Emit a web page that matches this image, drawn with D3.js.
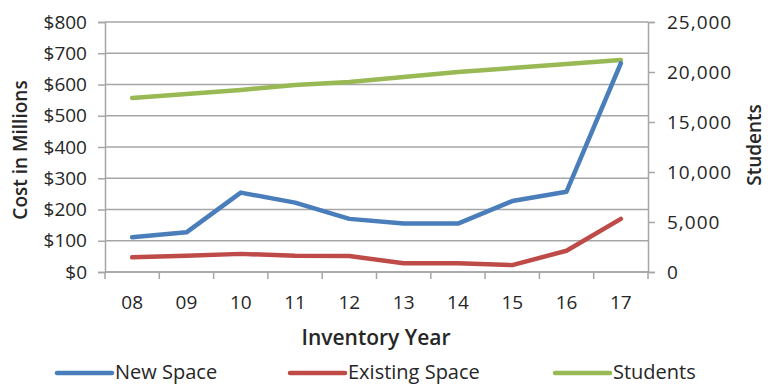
<!DOCTYPE html>
<html>
<head>
<meta charset="utf-8">
<script src="https://cdn.jsdelivr.net/npm/d3@7"></script>
<style>
  body { margin: 0; background: #fff; }
  svg { display: block; font-family: "Open Sans", "Noto Sans", sans-serif; }
</style>
</head>
<body>
<div id="chart"></div>
<script>
// values
const years = ["08", "09", "10", "11", "12", "13", "14", "15", "16", "17"];
const newSpace = [111, 127, 254, 222, 170, 155, 155, 227, 257, 668];
const existingSpace = [47, 52, 58, 52, 51, 28, 28, 22, 68, 170];
const students = [17400, 17800, 18200, 18700, 19000, 19500, 20000, 20400, 20800, 21200];
const costTicks = [0, 100, 200, 300, 400, 500, 600, 700, 800];
const studentTicks = [0, 5000, 10000, 15000, 20000, 25000];

const W = 770, H = 385;
const plotL = 105, plotR = 648, plotT = 22, plotB = 272;
const grey = "#a6a6a6";
const textCol = "#262626";

const svg = d3.select("#chart").append("svg")
  .attr("width", W).attr("height", H);

const x = d3.scaleBand().domain(years).range([plotL, plotR]);
const yCost = d3.scaleLinear().domain([0, 800]).range([plotB, plotT]);
const yStud = d3.scaleLinear().domain([0, 25000]).range([plotB, plotT]);

// grid
svg.append("g").selectAll("line")
  .data(costTicks).enter().append("line")
  .attr("x1", plotL).attr("x2", plotR)
  .attr("y1", d => yCost(d)).attr("y2", d => yCost(d))
  .attr("stroke", grey).attr("stroke-width", 1.5);

// left axis
const gL = svg.append("g").attr("transform", `translate(${plotL},0)`)
  .call(d3.axisLeft(yCost).tickValues(costTicks).tickSize(7).tickPadding(11)
    .tickFormat(d => "$" + d));
// right axis
const gR = svg.append("g").attr("transform", `translate(${plotR},0)`)
  .call(d3.axisRight(yStud).tickValues(studentTicks).tickSize(7).tickPadding(12)
    .tickFormat(d3.format(",")));
// bottom axis, ticks at band edges
const gB = svg.append("g").attr("transform", `translate(0,${plotB})`)
  .call(d3.axisBottom(x).tickSize(0).tickPadding(24));
gB.selectAll(".edge").data(years.concat(["end"])).enter().append("line")
  .attr("class", "edge")
  .attr("x1", (d, i) => i < years.length ? x(d) : plotR)
  .attr("x2", (d, i) => i < years.length ? x(d) : plotR)
  .attr("y1", 0).attr("y2", 7)
  .attr("stroke", grey).attr("stroke-width", 1.5);

[gL, gR, gB].forEach(g => {
  g.selectAll(".domain").attr("stroke", grey).attr("stroke-width", 1.5);
  g.selectAll(".tick line").attr("stroke", grey).attr("stroke-width", 1.5);
  g.selectAll("text").attr("fill", textCol).style("font-size", "19px")
    .style("font-family", "'Open Sans', sans-serif");
});
gR.selectAll("text").style("letter-spacing", "1px");
gB.select(".domain").remove();
svg.append("line").attr("x1", plotL).attr("x2", plotR)
  .attr("y1", plotB).attr("y2", plotB)
  .attr("stroke", grey).attr("stroke-width", 1.5);

// axis titles
svg.append("text")
  .attr("transform", `translate(27,150) rotate(-90)`)
  .attr("text-anchor", "middle")
  .attr("fill", textCol).style("font-size", "19px").style("font-weight", 600)
  .text("Cost in Millions");
svg.append("text")
  .attr("transform", `translate(761,145) rotate(-90)`)
  .attr("text-anchor", "middle")
  .attr("fill", textCol).style("font-size", "19px").style("font-weight", 600)
  .text("Students");
svg.append("text")
  .attr("x", 376).attr("y", 345)
  .attr("text-anchor", "middle")
  .attr("fill", textCol).style("font-size", "21px").style("font-weight", 600)
  .text("Inventory Year");

// series
const cx = d => x(d) + x.bandwidth() / 2;
const series = [
  { name: "New Space", values: newSpace, scale: yCost, color: "#4a7ebb" },
  { name: "Existing Space", values: existingSpace, scale: yCost, color: "#be4b48" },
  { name: "Students", values: students, scale: yStud, color: "#98b954" }
];

series.slice().reverse().forEach(s => {
  const line = d3.line()
    .x((d, i) => cx(years[i]))
    .y(d => s.scale(d));
  svg.append("path")
    .datum(s.values)
    .attr("d", line)
    .attr("fill", "none")
    .attr("stroke", s.color)
    .attr("stroke-width", 4.5)
    .attr("stroke-linejoin", "round")
    .attr("stroke-linecap", "round");
});

// legend
const legX = [57, 290, 555];
const leg = svg.append("g");
series.forEach((s, i) => {
  leg.append("line")
    .attr("x1", legX[i]).attr("x2", legX[i] + 55)
    .attr("y1", 373).attr("y2", 373)
    .attr("stroke", s.color).attr("stroke-width", 4.5)
    .attr("stroke-linecap", "round");
  leg.append("text")
    .attr("x", legX[i] + 58).attr("y", 379)
    .attr("fill", textCol).style("font-size", "20px")
    .text(s.name);
});
</script>
</body>
</html>
